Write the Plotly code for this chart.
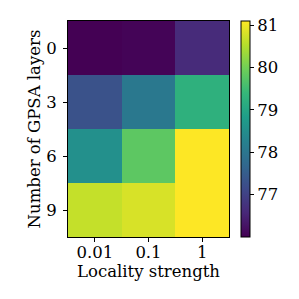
import plotly.graph_objects as go

strengths = ["0.01", "0.1", "1"]
layers = ["0", "3", "6", "9"]
row_0 = [76.0, 76.05, 76.62]
row_3 = [77.3, 78.05, 79.25]
row_6 = [78.55, 79.8, 81.1]
row_9 = [80.65, 80.8, 81.1]
values = [row_0, row_3, row_6, row_9]
cbar_ticks = [77, 78, 79, 80, 81]

font = dict(family="DejaVu Serif", size=16.5, color="black")

fig = go.Figure(go.Heatmap(
    x=strengths, y=layers, z=values,
    colorscale="Viridis", zmin=76.0, zmax=81.1,
    xgap=0, ygap=0,
    colorbar=dict(
        x=1.0745, xanchor="left", xpad=0, ypad=0,
        y=0.5, yanchor="middle", len=1, lenmode="fraction",
        thickness=9, outlinewidth=1, outlinecolor="black",
        tickvals=cbar_ticks, ticks="outside", ticklen=4, tickcolor="black",
        tickfont=font,
    ),
))

fig.update_layout(
    width=283, height=283,
    margin=dict(l=60, r=62, t=13, b=54),
    paper_bgcolor="white", plot_bgcolor="white",
    font=font,
)
fig.update_xaxes(
    title=dict(text="Locality strength", font=font, standoff=4),
    ticks="outside", ticklen=4, tickcolor="black", tickfont=font,
    ticklabelstandoff=-4,
    showline=True, linecolor="black", linewidth=1, mirror=True,
    showgrid=False, zeroline=False,
)
fig.update_yaxes(
    title=dict(text="Number of GPSA layers", font=font, standoff=1),
    autorange="reversed",
    ticks="outside", ticklen=4, tickcolor="black", tickfont=font,
    ticklabelstandoff=3,
    showline=True, linecolor="black", linewidth=1, mirror=True,
    showgrid=False, zeroline=False,
)

fig.write_html("out.html")
